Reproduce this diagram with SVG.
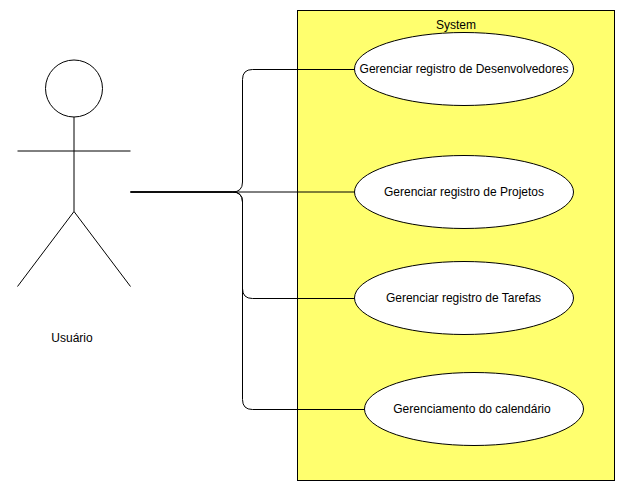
<svg xmlns="http://www.w3.org/2000/svg" width="636" height="489" viewBox="0 0 636 489">
<style>
text{font-family:"Liberation Sans",Arial,sans-serif;font-size:12px;fill:#000;text-anchor:middle}
.s{fill:none;stroke:#000;stroke-width:1}
.e{fill:#fff;stroke:#000;stroke-width:1}
</style>
<rect width="636" height="489" fill="#fff"/>
<g id="system"><rect x="297.5" y="10.5" width="317" height="470" fill="#ffff6e" stroke="#000"/><text x="456" y="29">System</text></g>
<g id="connectors">
<path class="s" d="M130.5 192H232.5Q242.5 192 242.5 182V79.5Q242.5 69.5 252.5 69.5H354.5"/>
<path class="s" d="M130.5 192H354.5"/>
<path class="s" d="M130.5 192H232.5Q242.5 192 242.5 202V288.5Q242.5 298.5 252.5 298.5H354.5"/>
<path class="s" d="M130.5 192H232.5Q242.5 192 242.5 202V399.5Q242.5 409.5 252.5 409.5H364.5"/>
</g>
<g id="actor"><circle class="s" cx="74" cy="88.5" r="28.5"/><path class="s" d="M74 117V211.5M17.5 151H130.5M74 211.5L17.5 286.5M74 211.5L130.5 286.5"/><text x="72" y="342">Usuário</text></g>
<g id="uc1"><ellipse class="e" cx="464" cy="69" rx="109.5" ry="36.5"/><text x="464" y="73">Gerenciar registro de Desenvolvedores</text></g>
<g id="uc2"><ellipse class="e" cx="464" cy="192" rx="109.5" ry="36.5"/><text x="464" y="196">Gerenciar registro de Projetos</text></g>
<g id="uc3"><ellipse class="e" cx="464" cy="298" rx="109.5" ry="36.5"/><text x="463.5" y="302">Gerenciar registro de Tarefas</text></g>
<g id="uc4"><ellipse class="e" cx="474" cy="409" rx="109.5" ry="36.5"/><text x="472" y="413">Gerenciamento do calendário</text></g>
</svg>
